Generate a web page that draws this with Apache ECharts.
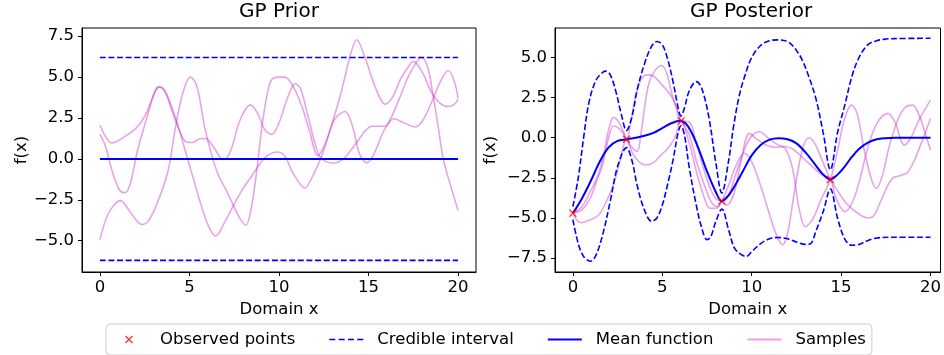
<!DOCTYPE html>
<html><head><meta charset="utf-8">
<script src="https://cdn.jsdelivr.net/npm/echarts@6/dist/echarts.min.js"></script>
<style>html,body{margin:0;padding:0;background:#fff}#c{width:944px;height:355px}</style>
</head><body><div id="c"></div>
<script>
// ---- tick labels ----
const xTicks = [0, 5, 10, 15, 20];
const priorYTicks = [-5, -2.5, 0, 2.5, 5, 7.5];
const postYTicks = [-7.5, -5, -2.5, 0, 2.5, 5];

// ---- GP prior ----
const priorMean = [[0, 0], [20, 0]];
const priorUpper = [[0, 6.2], [20, 6.2]];
const priorLower = [[0, -6.2], [20, -6.2]];
const priorSample1 = [[0,2.07],[0.3,1.4],[0.65,0.98],[1.0,1.1],[1.5,1.45],[2.0,1.85],[2.5,2.6],[3.0,3.9],[3.3,4.4],[3.6,4.2],[4.0,3.0],[4.5,1.6],[4.8,1.05],[5.2,1.0],[5.5,1.2],[5.9,1.25],[6.3,0.8],[6.9,-0.04],[7.3,0.5],[7.8,2.3],[8.4,3.3],[8.8,2.8],[9.2,1.8],[9.6,1.5],[10.0,2.2],[10.5,3.8],[10.9,4.6],[11.2,4.3],[11.6,2.7],[12.2,0.3],[12.6,-0.15],[13.1,-0.25],[13.6,0.0],[14.0,0.5],[14.4,1.1],[14.8,1.7],[15.2,2.0],[15.9,2.0],[16.4,2.45],[17.0,2.2],[17.6,1.95],[18.0,2.3],[18.5,3.4],[19.0,4.7],[19.46,5.4],[19.8,4.7],[20,3.7]];
const priorSample2 = [[0,1.52],[0.3,0.8],[0.7,-0.8],[1.1,-1.9],[1.4,-2.07],[1.7,-1.5],[2.1,0.5],[2.7,2.8],[3.1,4.2],[3.35,4.4],[3.7,4.0],[4.1,2.9],[4.5,1.5],[4.9,0.0],[5.3,-1.5],[5.7,-3.0],[6.1,-4.2],[6.45,-4.7],[7.0,-3.8],[7.45,-2.85],[8.0,-1.8],[8.5,-1.0],[9.0,-0.2],[9.4,0.25],[9.9,0.42],[10.3,0.2],[10.8,-0.9],[11.45,-1.77],[11.9,-1.0],[12.38,0.16],[13.0,2.3],[13.5,4.2],[14.0,6.4],[14.34,7.28],[14.8,6.2],[15.3,4.6],[15.7,3.6],[15.92,3.35],[16.3,3.7],[16.8,4.9],[17.2,5.6],[17.5,5.95],[18.0,5.3],[18.5,4.1],[19.0,3.4],[19.46,3.2],[19.8,3.35],[20,3.65]];
const priorSample3 = [[0,-4.92],[0.4,-3.5],[0.8,-2.8],[1.15,-2.55],[1.6,-3.1],[2.0,-3.7],[2.33,-4.0],[2.7,-3.8],[3.2,-2.7],[3.8,-0.75],[4.2,1.8],[4.6,3.9],[5.05,5.0],[5.4,4.5],[5.86,1.9],[6.2,0.4],[6.6,-0.95],[7.0,-1.8],[7.35,-2.6],[7.8,-3.6],[8.15,-4.05],[8.45,-3.0],[8.75,-0.8],[9.05,2.0],[9.35,4.0],[9.6,4.85],[10.0,5.0],[10.32,5.0],[10.7,4.6],[11.25,3.3],[11.7,1.7],[12.18,0.2],[12.6,1.0],[13.1,2.4],[13.69,2.9],[14.1,2.0],[14.5,0.3],[14.9,-0.24],[15.3,0.3],[15.8,1.6],[16.3,2.6],[16.8,3.9],[17.3,5.2],[17.97,6.2],[18.3,5.6],[18.6,3.9],[18.9,1.9],[19.17,0.0],[19.6,-1.7],[20,-3.15]];

// ---- GP posterior ----
const obsX = [0, 3.0, 6.05, 8.33, 14.4];
const obsY = [-4.7, -0.1, 1.05, -3.95, -2.6];
const postMean = [[0,-4.7],[0.5,-3.8],[1.0,-2.7],[1.5,-1.5],[2.0,-0.6],[2.5,-0.2],[3.0,-0.1],[3.5,0.0],[4.0,0.12],[4.5,0.3],[5.0,0.6],[5.5,0.9],[6.0,1.06],[6.3,0.9],[6.6,0.4],[7.0,-0.6],[7.5,-2.1],[8.0,-3.4],[8.33,-3.95],[8.7,-3.6],[9.0,-3.1],[9.5,-2.1],[10.0,-1.1],[10.5,-0.45],[11.0,-0.12],[11.5,-0.03],[12.0,-0.1],[12.5,-0.35],[13.0,-0.9],[13.5,-1.6],[14.0,-2.3],[14.4,-2.6],[14.8,-2.3],[15.2,-1.8],[15.6,-1.2],[16.0,-0.7],[16.5,-0.3],[17.0,-0.1],[17.5,-0.03],[18,0],[19,0],[20,0]];
const postUpper = [[0,-4.3],[0.3,-2.5],[0.6,0.0],[0.9,2.2],[1.3,3.6],[1.7,4.1],[1.85,4.15],[2.1,3.9],[2.4,2.9],[2.7,1.5],[3.0,0.45],[3.3,1.3],[3.6,3.0],[4.0,4.6],[4.4,5.7],[4.7,6.0],[5.0,5.8],[5.3,4.9],[5.6,3.5],[5.9,1.8],[6.05,1.35],[6.25,1.9],[6.5,2.9],[6.9,3.5],[7.2,3.1],[7.6,1.3],[8.0,-1.6],[8.33,-3.45],[8.7,-1.5],[9.0,0.8],[9.3,2.6],[9.6,3.8],[10.0,5.0],[10.5,5.75],[11.0,6.05],[11.5,6.1],[12.0,6.0],[12.4,5.6],[12.8,4.9],[13.2,3.8],[13.6,2.4],[14.0,0.3],[14.4,-2.0],[14.8,0.3],[15.2,2.0],[15.6,3.8],[16.0,5.0],[16.5,5.8],[17.0,6.05],[17.5,6.15],[18,6.18],[20,6.2]];
const postLower = [[0,-5.1],[0.3,-6.6],[0.6,-7.4],[0.98,-7.7],[1.3,-7.3],[1.7,-5.9],[2.1,-3.9],[2.5,-1.8],[3.0,-0.62],[3.3,-1.4],[3.6,-3.0],[4.0,-4.5],[4.4,-5.2],[4.7,-5.0],[5.0,-4.2],[5.3,-2.9],[5.6,-1.4],[5.9,0.4],[6.05,0.75],[6.25,0.1],[6.5,-1.8],[6.9,-4.2],[7.2,-5.6],[7.5,-6.35],[7.7,-6.2],[8.0,-5.2],[8.33,-4.45],[8.7,-5.7],[9.0,-6.8],[9.3,-7.2],[9.7,-7.4],[10.0,-7.1],[10.5,-6.6],[11.0,-6.3],[11.5,-6.22],[12.0,-6.3],[12.5,-6.5],[13.0,-6.65],[13.3,-6.6],[13.6,-5.8],[14.0,-4.6],[14.4,-3.2],[14.8,-5.0],[15.2,-6.3],[15.6,-6.7],[16.0,-6.65],[16.5,-6.4],[17.0,-6.25],[18,-6.2],[20,-6.2]];
const postSample1 = [[0,-4.7],[0.5,-4.3],[1.0,-3.3],[1.45,-2.2],[1.75,-0.9],[2.0,0.5],[2.28,1.27],[2.55,1.0],[2.8,0.45],[3.0,-0.1],[3.3,-0.6],[3.6,-0.85],[3.8,0.2],[4.0,1.8],[4.25,3.4],[4.6,4.2],[4.97,4.5],[5.25,4.0],[5.52,2.8],[5.8,1.8],[6.05,1.05],[6.5,1.0],[6.9,-0.3],[7.3,-1.9],[7.7,-3.2],[8.0,-3.8],[8.33,-3.95],[8.7,-3.6],[9.1,-2.3],[9.6,-0.7],[10.0,0.1],[10.43,0.37],[10.9,0.0],[11.4,-0.4],[11.9,-0.7],[12.3,-2.0],[12.65,-4.4],[13.0,-5.55],[13.4,-5.1],[13.9,-3.8],[14.4,-2.6],[14.8,-0.8],[15.2,1.2],[15.58,2.03],[15.9,1.5],[16.3,-0.8],[16.7,-2.6],[16.97,-3.15],[17.3,-2.4],[17.7,-0.5],[18.2,1.2],[18.6,1.9],[19.0,2.03],[19.4,1.3],[19.7,0.3],[20,-0.77]];
const postSample2 = [[0,-4.7],[0.5,-4.5],[1.0,-3.7],[1.3,-2.8],[1.63,-1.8],[2.0,0.0],[2.28,0.73],[2.55,0.6],[2.8,0.3],[3.0,-0.1],[3.25,1.0],[3.5,2.6],[3.8,3.6],[4.13,3.92],[4.5,3.85],[4.9,3.4],[5.3,2.9],[5.6,2.4],[5.85,1.7],[6.05,1.05],[6.5,0.2],[7.0,-1.8],[7.5,-3.4],[7.8,-4.1],[8.1,-4.3],[8.33,-3.95],[8.6,-4.2],[9.0,-3.5],[9.4,-1.5],[9.87,0.27],[10.3,-0.1],[10.8,-0.45],[11.3,-0.6],[11.8,-0.55],[12.3,-0.7],[12.8,-1.2],[13.3,-1.7],[13.8,-2.2],[14.4,-2.6],[14.7,-3.7],[15.2,-4.6],[15.6,-4.1],[16.0,-2.8],[16.5,-0.6],[17.0,0.9],[17.61,1.52],[18.0,1.0],[18.54,-0.45],[18.9,0.0],[19.4,1.2],[20,2.34]];
const postSample3 = [[0,-4.7],[0.2,-5.1],[0.43,-5.3],[0.9,-5.15],[1.45,-4.8],[1.9,-3.9],[2.28,-2.9],[2.6,-1.6],[3.0,-0.1],[3.3,-0.9],[3.7,-1.5],[4.04,-1.7],[4.5,-1.55],[5.0,-1.0],[5.33,-0.64],[5.7,0.0],[6.05,1.05],[6.5,-0.3],[7.0,-2.5],[7.4,-3.9],[7.65,-4.4],[8.0,-4.4],[8.33,-3.95],[8.7,-3.0],[9.1,-1.8],[9.59,-0.97],[10.0,-1.5],[10.5,-3.0],[11.0,-4.8],[11.4,-6.1],[11.72,-6.67],[12.0,-6.0],[12.4,-3.3],[12.83,-0.76],[13.2,0.0],[13.5,-0.3],[13.9,-1.3],[14.4,-2.6],[14.8,-3.3],[15.3,-4.1],[15.8,-4.6],[16.5,-5.0],[16.8,-4.9],[17.2,-4.0],[17.6,-3.0],[17.9,-2.5],[18.2,-2.4],[18.45,-2.3],[18.7,-2.2],[19.1,-1.4],[19.5,-0.3],[20,1.2]];

// ---- styles ----
const FONT = 'DejaVu Sans';
const FS = 16.5;
const BLUE = '#0000ff';
const SAMPLE = 'rgba(204,51,204,0.45)';
const DASH = [6, 2.6];

function xShape(ox, oy, s, t) {
  const h = s / 2;
  const p = [[0,t],[t,0],[h,h-t],[s-t,0],[s,t],[h+t,h],[s,s-t],[s-t,s],[h,h+t],[t,s],[0,s-t],[h-t,h]];
  return p.map((q, i) => (i ? 'L' : 'M') + (q[0] + ox) + ',' + (q[1] + oy)).join('') + 'Z';
}
const XMARK = 'path://' + xShape(0, 0, 10, 1.2);
// legend icons: item box 43 x 8, visible handle in 0..34, invisible anchors to keep bbox
const ANCHORS = 'M0,4L0,4.01M43,4L43,4.01';
const LEG_X = 'path://' + xShape(13, 0, 8, 0.95) + ANCHORS;
const LEG_DASH = 'path://M0,3.2h6v1.6h-6zM9.33,3.2h6v1.6h-6zM18.67,3.2h6v1.6h-6zM28,3.2h6v1.6h-6z' + ANCHORS + 'M0,0L0,0.01M0,8L0,7.99';
const LEG_SOLID = 'path://M0,3.1h34v1.8h-34z' + ANCHORS + 'M0,0L0,0.01M0,8L0,7.99';

function fmt(v) {
  const s = Math.abs(v).toFixed(1);
  return v < 0 ? '\u2212' + s : s;
}

function lineSeries(name, data, gi, color, width, dash, z) {
  return {
    type: 'line', name: name, data: data, xAxisIndex: gi, yAxisIndex: gi,
    smooth: 0.35, symbol: 'none', showSymbol: false, silent: true, z: z,
    color: color,
    itemStyle: { color: color },
    lineStyle: { color: color, width: width, type: dash ? DASH : 'solid' },
    emphasis: { disabled: true }, animation: false
  };
}

function xAxis(gi, max) {
  return {
    type: 'value', gridIndex: gi, min: -1, max: max,
    name: 'Domain x', nameLocation: 'middle', nameGap: 29,
    nameTextStyle: { fontFamily: FONT, fontSize: FS, color: '#000' },
    axisLine: { show: true, onZero: false, lineStyle: { color: '#000', width: 1 } },
    axisTick: { show: true, inside: false, length: 4, customValues: xTicks, lineStyle: { color: '#000', width: 1 } },
    axisLabel: { show: true, margin: 7, customValues: xTicks, fontFamily: FONT, fontSize: FS, color: '#000',
                 formatter: v => String(v) },
    splitLine: { show: false }
  };
}
function yAxis(gi, min, max, ticks, gap) {
  return {
    type: 'value', gridIndex: gi, min: min, max: max,
    name: 'f(x)', nameLocation: 'middle', nameGap: gap, nameRotate: 90,
    nameTextStyle: { fontFamily: FONT, fontSize: FS, color: '#000' },
    axisLine: { show: true, onZero: false, lineStyle: { color: '#000', width: 1 } },
    axisTick: { show: true, inside: false, length: 4, customValues: ticks, lineStyle: { color: '#000', width: 1 } },
    axisLabel: { show: true, margin: 8, customValues: ticks, fontFamily: FONT, fontSize: FS, color: '#000', formatter: fmt },
    splitLine: { show: false }
  };
}

const series = [
  lineSeries('Credible interval', priorUpper, 0, BLUE, 1.6, true, 3),
  lineSeries('Credible interval', priorLower, 0, BLUE, 1.6, true, 3),
  lineSeries('Mean function', priorMean, 0, BLUE, 2, false, 3),
  lineSeries('Samples', priorSample1, 0, SAMPLE, 1.6, false, 2),
  lineSeries('Samples', priorSample2, 0, SAMPLE, 1.6, false, 2),
  lineSeries('Samples', priorSample3, 0, SAMPLE, 1.6, false, 2),
  lineSeries('Credible interval', postUpper, 1, BLUE, 1.6, true, 3),
  lineSeries('Credible interval', postLower, 1, BLUE, 1.6, true, 3),
  lineSeries('Mean function', postMean, 1, BLUE, 2, false, 3),
  lineSeries('Samples', postSample1, 1, SAMPLE, 1.6, false, 2),
  lineSeries('Samples', postSample2, 1, SAMPLE, 1.6, false, 2),
  lineSeries('Samples', postSample3, 1, SAMPLE, 1.6, false, 2),
  {
    type: 'scatter', name: 'Observed points', xAxisIndex: 1, yAxisIndex: 1,
    data: obsX.map((x, i) => [x, obsY[i]]),
    symbol: XMARK, symbolSize: 8, color: '#ff0000', itemStyle: { color: '#ff0000' },
    z: 5, silent: true, animation: false
  }
];

const chart = echarts.init(document.getElementById('c'), null, { renderer: 'canvas' });
chart.setOption({
  backgroundColor: '#fff',
  animation: false,
  title: [
    { text: 'GP Prior', left: 239, top: 2, padding: 0,
      textStyle: { fontFamily: FONT, fontSize: 20, fontWeight: 'normal', color: '#000' } },
    { text: 'GP Posterior', left: 690, top: 2, padding: 0,
      textStyle: { fontFamily: FONT, fontSize: 20, fontWeight: 'normal', color: '#000' } }
  ],
  grid: [
    { left: 82, top: 28, width: 394, height: 244, show: true, borderColor: '#000', borderWidth: 1, backgroundColor: 'transparent', containLabel: false },
    { left: 555, top: 28, width: 388, height: 244, show: true, borderColor: '#000', borderWidth: 1, backgroundColor: 'transparent', containLabel: false }
  ],
  xAxis: [xAxis(0, 21), xAxis(1, 20.56)],
  yAxis: [yAxis(0, -6.91, 8.0, priorYTicks, 47), yAxis(1, -8.37, 6.84, postYTicks, 56)],
  legend: {
    left: 106, top: 324, orient: 'horizontal',
    padding: [7, 6, 7, 6], itemGap: 34, itemWidth: 43, itemHeight: 8,
    borderColor: '#cccccc', borderWidth: 1, borderRadius: 4, backgroundColor: '#fff',
    symbolKeepAspect: true, selectedMode: false,
    itemStyle: { borderWidth: 0 },
    textStyle: { fontFamily: FONT, fontSize: FS, color: '#000' },
    data: [
      { name: 'Observed points', icon: LEG_X },
      { name: 'Credible interval', icon: LEG_DASH },
      { name: 'Mean function', icon: LEG_SOLID },
      { name: 'Samples', icon: LEG_SOLID }
    ]
  },
  series: series
});
</script>
</body></html>
